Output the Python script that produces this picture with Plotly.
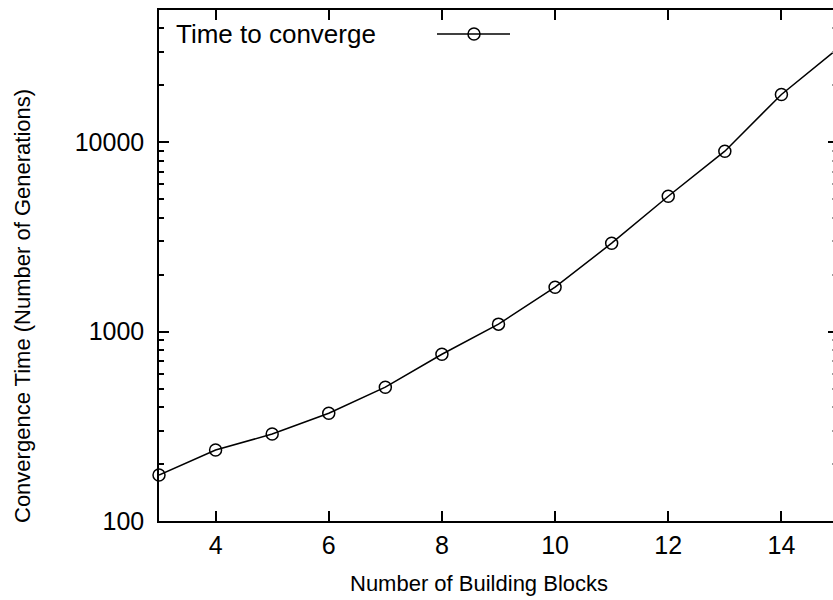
import numpy as np
import plotly.graph_objects as go

# Convergence time versus problem size
blocks = [3, 4, 5, 6, 7, 8, 9, 10, 11, 12, 13, 14, 15]
generations = [175, 237, 288, 371, 509, 760, 1096, 1718, 2933, 5190, 8980, 17900, 31300]

series_name = "Time to converge"
x_title = "Number of Building Blocks"
y_title = "Convergence Time (Number of Generations)"

FONT = "Liberation Sans, Arial, Helvetica, sans-serif"
W, H = 833, 600
L, T, B = 159, 10, 79
PX_PER_UNIT = (838 - 159) / 12.0
x_max = 3 + (W - L) / PX_PER_UNIT
y_range = [2, np.log10(50000)]

fig = go.Figure()
fig.add_trace(go.Scatter(
    x=blocks, y=generations, mode="lines+markers", name=series_name,
    line=dict(color="black", width=1.5),
    marker=dict(symbol="circle-open", size=12, color="black", line=dict(width=1.5)),
    cliponaxis=False, showlegend=False,
))
# invisible trace to drive the right-hand mirrored ticks
fig.add_trace(go.Scatter(x=blocks, y=generations, yaxis="y2", mode="none",
                         showlegend=False, hoverinfo="skip"))

tick_font = dict(family=FONT, size=25, color="black")

fig.update_layout(
    width=W, height=H,
    margin=dict(l=L, r=0, t=T, b=B),
    paper_bgcolor="white", plot_bgcolor="white",
    showlegend=False,
    xaxis=dict(
        range=[3, x_max], tick0=0, dtick=2, ticks="inside", ticklen=10,
        tickwidth=1.5, tickcolor="black", showline=True, linecolor="black",
        linewidth=1.5, mirror="ticks", showgrid=False, zeroline=False,
        tickfont=tick_font, ticklabelstandoff=1,
    ),
    yaxis=dict(
        type="log", range=y_range, tick0=0, dtick=1, tickformat="d",
        ticks="inside", ticklen=10, tickwidth=1.5, tickcolor="black",
        showline=True, linecolor="black", linewidth=1.5, showgrid=False,
        zeroline=False, tickfont=tick_font, ticklabelstandoff=8,
        minor=dict(ticks="inside", ticklen=5, tickwidth=1.5, tickcolor="black",
                   dtick="D1", showgrid=False),
    ),
    yaxis2=dict(
        type="log", range=y_range, overlaying="y", side="right",
        tick0=0, dtick=1, ticks="inside", ticklen=5, tickwidth=1.5,
        tickcolor="black", showticklabels=False, showline=False,
        showgrid=False, zeroline=False,
        minor=dict(ticks="inside", ticklen=1, tickwidth=1.5, tickcolor="#999999",
                   dtick="D1", showgrid=False),
    ),
)


def px_x(px):
    return (px - L) / (W - L)


def px_y(py):
    return (H - B - py) / (H - B - T)


# axis titles
fig.add_annotation(text=x_title, xref="paper", yref="paper", x=px_x(478.5), y=px_y(583),
                   xanchor="center", yanchor="middle", showarrow=False,
                   font=dict(family=FONT, size=22, color="black"))
fig.add_annotation(text=y_title, xref="paper", yref="paper", x=px_x(22), y=px_y(306),
                   xanchor="center", yanchor="middle", textangle=-90, showarrow=False,
                   font=dict(family=FONT, size=22, color="black"))

# key: label on the left, sample line with a marker to its right
fig.add_annotation(text=series_name, xref="paper", yref="paper", x=px_x(174), y=px_y(34),
                   xanchor="left", yanchor="middle", showarrow=False,
                   font=dict(family=FONT, size=26, color="black"))
fig.add_shape(type="line", xref="paper", yref="paper", x0=px_x(437), x1=px_x(510),
              y0=px_y(34), y1=px_y(34), line=dict(color="black", width=1.5))
fig.add_shape(type="circle", xref="paper", yref="paper", x0=px_x(468), x1=px_x(480),
              y0=px_y(40), y1=px_y(28), line=dict(color="black", width=1.5),
              fillcolor="rgba(0,0,0,0)")

fig.write_html("out.html")
